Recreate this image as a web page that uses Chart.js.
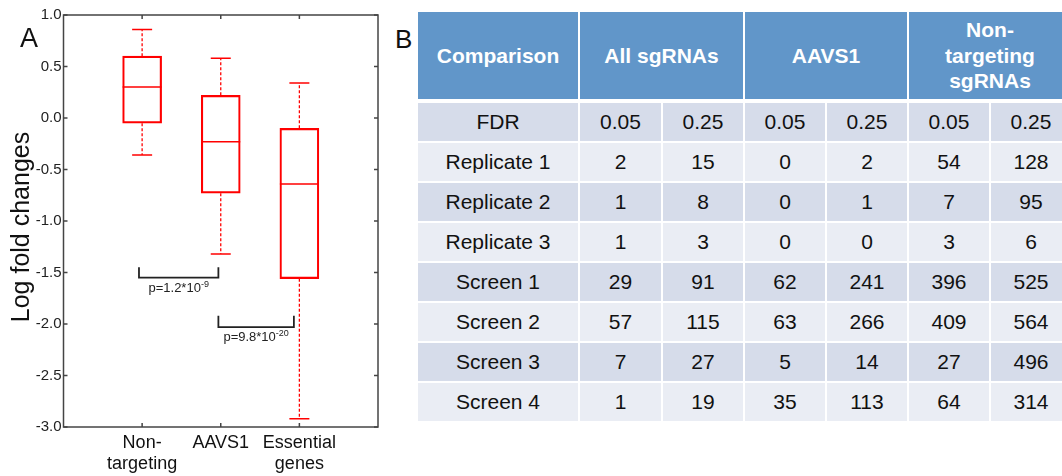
<!DOCTYPE html>
<html>
<head>
<meta charset="utf-8">
<script src="https://cdn.jsdelivr.net/npm/chart.js@4.4.1/dist/chart.umd.min.js"></script>
<style>
  body { margin: 0; background: #fff; overflow: hidden; font-family: Arial, 'Liberation Sans', sans-serif; }
  #page { position: relative; width: 1062px; height: 476px; overflow: hidden; }
  #boxWrap { position: absolute; left: 0; top: 0; width: 392px; height: 476px; }
  .panel { position: absolute; line-height: 1; color: #111; }
  #fdrTable {
    position: absolute; left: 418px; top: 12px;
    display: grid;
    grid-template-columns: 160px 81px 80px 80px 80px 80px 80px;
    grid-template-rows: 89px repeat(8, 38px);
    column-gap: 2px; row-gap: 2px;
    background: #fff;
  }
  #fdrTable div { display: flex; align-items: center; justify-content: center; text-align: center; }
  #fdrTable .head {
    background: #6196c9; color: #fff; font-weight: bold; font-size: 21px; line-height: 25.5px;
    border-bottom: 2px solid #fff; box-sizing: border-box;
  }
  #fdrTable .cell { font-size: 21px; color: #111; }
  #fdrTable .dark { background: #d6dcea; }
  #fdrTable .light { background: #eaedf4; }
</style>
</head>
<body>
<div id="page">
  <div id="boxWrap"><canvas id="boxChart"></canvas></div>
  <div class="panel" style="left:20px; top:25px; font-size:27px;">A</div>
  <div class="panel" style="left:395px; top:26px; font-size:26px;">B</div>
  <div id="fdrTable"></div>
</div>

<script>
// Panel A: log fold changes per sgRNA group
const groups = [['Non-', 'targeting'], ['AAVS1'], ['Essential', 'genes']];
const whiskerHigh = [0.86, 0.58, 0.34];
const upperQuartile = [0.60, 0.22, -0.10];
const median = [0.30, -0.23, -0.64];
const lowerQuartile = [-0.05, -0.73, -1.56];
const whiskerLow = [-0.36, -1.32, -2.92];

// significance brackets between groups
const bracketFrom = [0.96, 1.97];
const bracketTo = [1.97, 2.93];
const bracketTop = [-1.45, -1.92];
const bracketBottom = [-1.55, -2.03];
const pText = ['p=1.2*10', 'p=9.8*10'];
const pExponent = ['-9', '-20'];

// Panel B: number of hits per comparison
const tableHeaders = [['Comparison'], ['All sgRNAs'], ['AAVS1'], ['Non-', 'targeting', 'sgRNAs']];
const fdrLevels = ['0.05', '0.25'];
const comparisons = ['Replicate 1', 'Replicate 2', 'Replicate 3', 'Screen 1', 'Screen 2', 'Screen 3', 'Screen 4'];
const allSgRNAs = [[2, 15], [1, 8], [1, 3], [29, 91], [57, 115], [7, 27], [1, 19]];
const aavs1Hits = [[0, 2], [0, 1], [0, 0], [62, 241], [63, 266], [5, 14], [35, 113]];
const nonTargetingHits = [[54, 128], [7, 95], [3, 6], [396, 525], [409, 564], [27, 496], [64, 314]];

const RED = '#ff0000';
const FONT = "Arial, 'Liberation Sans', sans-serif";

// build the table
const table = document.getElementById('fdrTable');
function addCell(text, cls, span) {
    const d = document.createElement('div');
    d.className = cls;
    d.innerHTML = text;
    if (span) d.style.gridColumn = 'span ' + span;
    table.appendChild(d);
}
tableHeaders.forEach((h, i) => addCell(h.join('<br>'), 'head', i === 0 ? 1 : 2));
addCell('FDR', 'cell dark');
for (let g = 0; g < 3; g++) fdrLevels.forEach(f => addCell(f, 'cell dark'));
comparisons.forEach((name, r) => {
    const shade = r % 2 === 0 ? 'light' : 'dark';
    addCell(name, 'cell ' + shade);
    [allSgRNAs, aavs1Hits, nonTargetingHits].forEach(set => {
        set[r].forEach(v => addCell(String(v), 'cell ' + shade));
    });
});

// datasets for the box plot
const boxes = groups.map((g, i) => ({ x: i + 1, y: [lowerQuartile[i], upperQuartile[i]] }));
const medians = groups.map((g, i) => ({ x: i + 1, y: median[i] }));
const caps = groups.flatMap((g, i) => [{ x: i + 1, y: whiskerHigh[i] }, { x: i + 1, y: whiskerLow[i] }]);
const whiskers = groups.flatMap((g, i) => [
    { x: i + 1, y: upperQuartile[i] }, { x: i + 1, y: whiskerHigh[i] }, { x: i + 1, y: null },
    { x: i + 1, y: lowerQuartile[i] }, { x: i + 1, y: whiskerLow[i] }, { x: i + 1, y: null }
]);
const bracketLines = bracketFrom.flatMap((f, i) => [
    { x: f, y: bracketTop[i] }, { x: f, y: bracketBottom[i] },
    { x: bracketTo[i], y: bracketBottom[i] }, { x: bracketTo[i], y: bracketTop[i] },
    { x: bracketTo[i], y: null }
]);

// frame with inward ticks, p-values and the y title
const framePlugin = {
    id: 'frame',
    afterDraw(chart) {
        const { ctx, chartArea: a, scales: { x, y } } = chart;
        ctx.save();
        ctx.strokeStyle = '#444';
        ctx.lineWidth = 1.5;
        ctx.strokeRect(a.left, a.top, a.right - a.left, a.bottom - a.top);
        ctx.beginPath();
        y.ticks.forEach(t => {
            const py = y.getPixelForValue(t.value);
            ctx.moveTo(a.left, py); ctx.lineTo(a.left + 4, py);
            ctx.moveTo(a.right, py); ctx.lineTo(a.right - 4, py);
        });
        x.ticks.forEach(t => {
            const px = x.getPixelForValue(t.value);
            ctx.moveTo(px, a.top); ctx.lineTo(px, a.top + 4);
            ctx.moveTo(px, a.bottom); ctx.lineTo(px, a.bottom - 4);
        });
        ctx.stroke();

        // p-values under each bracket
        ctx.fillStyle = '#222';
        ctx.textBaseline = 'alphabetic';
        ctx.textAlign = 'left';
        pText.forEach((txt, i) => {
            const cx = x.getPixelForValue((bracketFrom[i] + bracketTo[i]) / 2);
            const base = y.getPixelForValue(bracketBottom[i]) + 14;
            ctx.font = '13px ' + FONT;
            const w1 = ctx.measureText(txt).width;
            ctx.font = '9px ' + FONT;
            const w2 = ctx.measureText(pExponent[i]).width;
            const sx = cx - (w1 + w2) / 2;
            ctx.font = '13px ' + FONT;
            ctx.fillText(txt, sx, base);
            ctx.font = '9px ' + FONT;
            ctx.fillText(pExponent[i], sx + w1, base - 5);
        });

        // y axis title
        ctx.translate(22, 227);
        ctx.rotate(-Math.PI / 2);
        ctx.textAlign = 'center';
        ctx.textBaseline = 'middle';
        ctx.font = '25px ' + FONT;
        ctx.fillStyle = '#111';
        ctx.fillText('Log fold changes', 0, 0);
        ctx.restore();
    }
};

new Chart(document.getElementById('boxChart'), {
    type: 'bar',
    data: {
        datasets: [
            {
                type: 'bar',
                data: boxes,
                backgroundColor: 'rgba(0,0,0,0)',
                borderColor: RED,
                borderWidth: 1.5,
                borderSkipped: false,
                barThickness: 39
            },
            {
                type: 'scatter',
                data: medians,
                pointStyle: 'line',
                pointRadius: 19.5,
                pointBorderColor: RED,
                pointBorderWidth: 1.5
            },
            {
                type: 'scatter',
                data: caps,
                pointStyle: 'line',
                pointRadius: 10,
                pointBorderColor: RED,
                pointBorderWidth: 1.5
            },
            {
                type: 'scatter',
                data: whiskers,
                showLine: true,
                spanGaps: false,
                borderColor: RED,
                borderWidth: 1.3,
                borderDash: [3, 2],
                pointRadius: 0
            },
            {
                type: 'scatter',
                data: bracketLines,
                showLine: true,
                spanGaps: false,
                borderColor: '#222',
                borderWidth: 1.8,
                pointRadius: 0
            }
        ]
    },
    options: {
        responsive: true,
        maintainAspectRatio: false,
        animation: false,
        layout: { autoPadding: false, padding: { top: 15, right: 14, left: 0, bottom: 0 } },
        plugins: { legend: { display: false }, tooltip: { enabled: false } },
        scales: {
            x: {
                type: 'linear',
                min: 0,
                max: 4,
                offset: false,
                grid: { display: false, drawTicks: false },
                border: { display: false },
                afterBuildTicks: scale => { scale.ticks = [1, 2, 3].map(v => ({ value: v })); },
                afterFit: scale => { scale.height = 49; },
                ticks: {
                    autoSkip: false,
                    maxRotation: 0,
                    padding: 6,
                    color: '#111',
                    font: { family: FONT, size: 18, lineHeight: 1.15 },
                    callback: v => groups[v - 1]
                }
            },
            y: {
                min: -3,
                max: 1,
                grid: { display: false, drawTicks: false },
                border: { display: false },
                afterFit: scale => { scale.width = 63.5; },
                ticks: {
                    stepSize: 0.5,
                    padding: 2,
                    color: '#222',
                    font: { family: FONT, size: 15 },
                    callback: v => v.toFixed(1)
                }
            }
        }
    },
    plugins: [framePlugin]
});
</script>
</body>
</html>
